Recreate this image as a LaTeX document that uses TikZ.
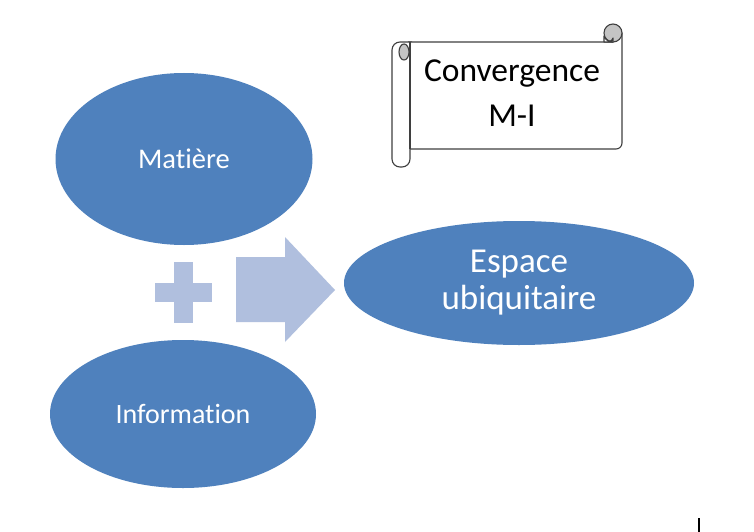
\documentclass[tikz,border=0pt]{standalone}
\usepackage{fontspec}
\setmainfont{Carlito}[Ligatures=NoCommon]
\usetikzlibrary{shapes.geometric}
\definecolor{ellblue}{HTML}{4F81BD}
\definecolor{lightblue}{HTML}{B0BFDE}
\definecolor{scrollline}{HTML}{3F3F3F}
\definecolor{rollgray}{HTML}{C4C4C4}
\tikzset{
  blob/.style={ellipse, fill=ellblue, draw=none, inner sep=0pt, text=white, align=center},
  scrolledge/.style={draw=scrollline, line width=1.1pt, line join=round},
  deco/.style={fill=lightblue, draw=none}
}
\begin{document}
\begin{tikzpicture}[x=1pt,y=-1pt]
\useasboundingbox (0,0) rectangle (754,532);
\fill[white] (0,0) rectangle (754,532);
% ellipses
\node[blob, minimum width=257pt, minimum height=172pt, font=\fontsize{28.5}{32}\selectfont] (mat) at (184,159) {Matière};
\node[blob, minimum width=266pt, minimum height=148pt, font=\fontsize{28}{32}\selectfont] (info) at (183,414) {Information};
\node[blob, minimum width=350pt, minimum height=124pt, font=\fontsize{35}{37}\selectfont] (esp) at (519,283) {Espace\\ubiquitaire};
% plus sign
\fill[deco] (174,262) rectangle (193,323);
\fill[deco] (155,283) rectangle (212,302);
% block arrow
\fill[deco] (236,257) -- (285,257) -- (285,237) -- (335,290) -- (285,342) -- (285,322) -- (236,322) -- cycle;
% scroll
\path[scrolledge, fill=white] (408,42) -- (613,42) -- (613,33) -- (622,33) -- (622,143) arc[start angle=0, end angle=90, radius=6] -- (410,149) -- (410,42);
\path[scrolledge, fill=white, rounded corners=8pt] (410,149) -- (410,167) -- (392,167) -- (392,42) -- (412,42);
\draw[scrolledge] (410,42) -- (410,149);
\filldraw[scrolledge, fill=rollgray] (404,52) ellipse[x radius=5, y radius=8];
\filldraw[scrolledge, fill=rollgray] (613,33) circle[radius=9];
\draw[scrolledge, fill=white] (604,36) .. controls (606,42) and (612,43) .. (613,38) -- (613,42) -- (604,42) -- cycle;
\node[font=\fontsize{33.5}{45}\selectfont, align=center, text=black] (conv) at (512,93) {Convergence\\M-I};
% tick
\draw[line width=1.6pt] (699,518) -- (699,532);
\end{tikzpicture}
\end{document}
